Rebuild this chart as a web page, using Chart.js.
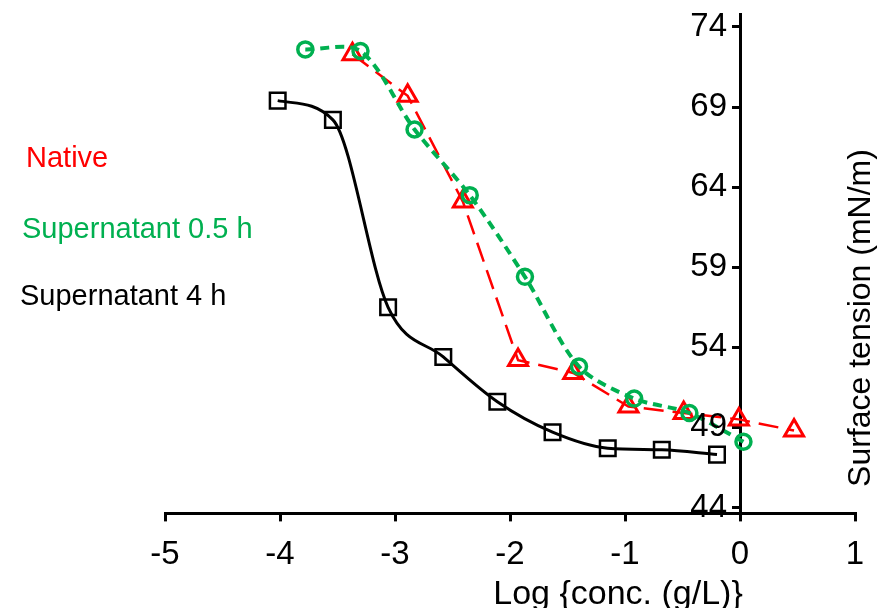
<!DOCTYPE html>
<html>
<head>
<meta charset="utf-8">
<script src="https://cdn.jsdelivr.net/npm/chart.js@4/dist/chart.umd.min.js"></script>
<style>
  html, body { margin: 0; padding: 0; background: #fff; }
</style>
</head>
<body>
<canvas id="chart" width="889" height="608"></canvas>
<script>
// Values (x = log conc. in g/L, y = mN/m).
const nativeLogConc = [-3.37, -2.89, -2.41, -1.93, -1.45, -0.97, -0.49, -0.01, 0.47];
const nativeTension = [72.3, 69.7, 63.1, 53.2, 52.4, 50.3, 49.9, 49.5, 48.8];

const sup05LogConc = [-3.78, -3.30, -2.83, -2.35, -1.87, -1.40, -0.92, -0.44, 0.03];
const sup05Tension = [72.6, 72.5, 67.6, 63.5, 58.4, 52.8, 50.8, 49.9, 48.1];

const sup4LogConc = [-4.02, -3.54, -3.06, -2.58, -2.11, -1.63, -1.15, -0.68, -0.20];
const sup4Tension = [69.4, 68.2, 56.5, 53.4, 50.6, 48.7, 47.7, 47.6, 47.3];

const yTicks = [44, 49, 54, 59, 64, 69, 74];
const legendLabels = ['Native', 'Supernatant 0.5 h', 'Supernatant 4 h'];

const RED = '#ff0000';
const GREEN = '#00b050';
const BLACK = '#000000';
const FONT = '"Liberation Sans", Arial, sans-serif';

const toPoints = (xs, ys) => xs.map((x, i) => ({ x, y: ys[i] }));

// Free-floating texts: series names, axis titles and the y labels
// (the y axis sits at x = 0, where Chart.js ignores tick padding).
const textPlugin = {
  id: 'texts',
  afterDraw(chart) {
    const ctx = chart.ctx;
    const xScale = chart.scales.x;
    const yScale = chart.scales.y;
    ctx.save();

    ctx.fillStyle = BLACK;
    ctx.font = '33px ' + FONT;
    ctx.textAlign = 'right';
    ctx.textBaseline = 'middle';
    const labelRight = xScale.getPixelForValue(0) - 13;
    yTicks.forEach((v) => {
      ctx.fillText(String(v), labelRight, yScale.getPixelForValue(v));
    });

    ctx.font = '29px ' + FONT;
    ctx.textAlign = 'left';
    ctx.textBaseline = 'alphabetic';
    const colors = [RED, GREEN, BLACK];
    const pos = [[26, 167], [22, 238], [20, 305]];
    legendLabels.forEach((label, i) => {
      ctx.fillStyle = colors[i];
      ctx.fillText(label, pos[i][0], pos[i][1]);
    });

    ctx.fillStyle = BLACK;
    ctx.textAlign = 'center';
    ctx.font = '34px ' + FONT;
    ctx.fillText('Log {conc. (g/L)}', 618, 604);

    ctx.font = '32px ' + FONT;
    ctx.translate(861, 318);
    ctx.rotate(-Math.PI / 2);
    ctx.textBaseline = 'middle';
    ctx.fillText('Surface tension (mN/m)', 0, 0);
    ctx.restore();
  },
};

new Chart(document.getElementById('chart'), {
  type: 'line',
  data: {
    datasets: [
      {
        label: legendLabels[0],
        data: toPoints(nativeLogConc, nativeTension),
        borderColor: RED,
        borderWidth: 2.5,
        borderDash: [20, 9],
        tension: 0,
        pointStyle: 'triangle',
        pointRadius: 11,
        pointBorderWidth: 3,
        pointBorderColor: RED,
        pointBackgroundColor: 'rgba(0,0,0,0)',
        order: 1,
      },
      {
        label: legendLabels[1],
        data: toPoints(sup05LogConc, sup05Tension),
        borderColor: GREEN,
        borderWidth: 4,
        borderDash: [9, 6],
        tension: 0.3,
        pointStyle: 'circle',
        pointRadius: 7.5,
        pointBorderWidth: 3.5,
        pointBorderColor: GREEN,
        pointBackgroundColor: 'rgba(0,0,0,0)',
        order: 0,
      },
      {
        label: legendLabels[2],
        data: toPoints(sup4LogConc, sup4Tension),
        borderColor: BLACK,
        borderWidth: 3,
        cubicInterpolationMode: 'monotone',
        pointStyle: 'rect',
        pointRadius: 11,
        pointBorderWidth: 2.5,
        pointBorderColor: BLACK,
        pointBackgroundColor: 'rgba(0,0,0,0)',
        order: 2,
      },
    ],
  },
  options: {
    responsive: false,
    animation: false,
    layout: { padding: { left: 165, right: 34, top: 0, bottom: 19 } },
    plugins: {
      legend: { display: false },
      tooltip: { enabled: false },
    },
    scales: {
      x: {
        type: 'linear',
        min: -5,
        max: 1,
        ticks: { stepSize: 1, color: BLACK, font: { family: FONT, size: 33 }, padding: 14 },
        grid: { drawOnChartArea: false, drawTicks: true, tickLength: 8, color: BLACK, lineWidth: 3 },
        border: { display: true, color: BLACK, width: 3 },
      },
      y: {
        type: 'linear',
        position: { x: 0 },
        min: 43.63,
        max: 74.81,
        afterBuildTicks: (scale) => {
          scale.ticks = yTicks.map((v) => ({ value: v }));
        },
        ticks: { display: false },
        grid: { drawOnChartArea: false, drawTicks: true, tickLength: 7, color: BLACK, lineWidth: 3 },
        border: { display: true, color: BLACK, width: 3 },
      },
    },
  },
  plugins: [textPlugin],
});
</script>
</body>
</html>
